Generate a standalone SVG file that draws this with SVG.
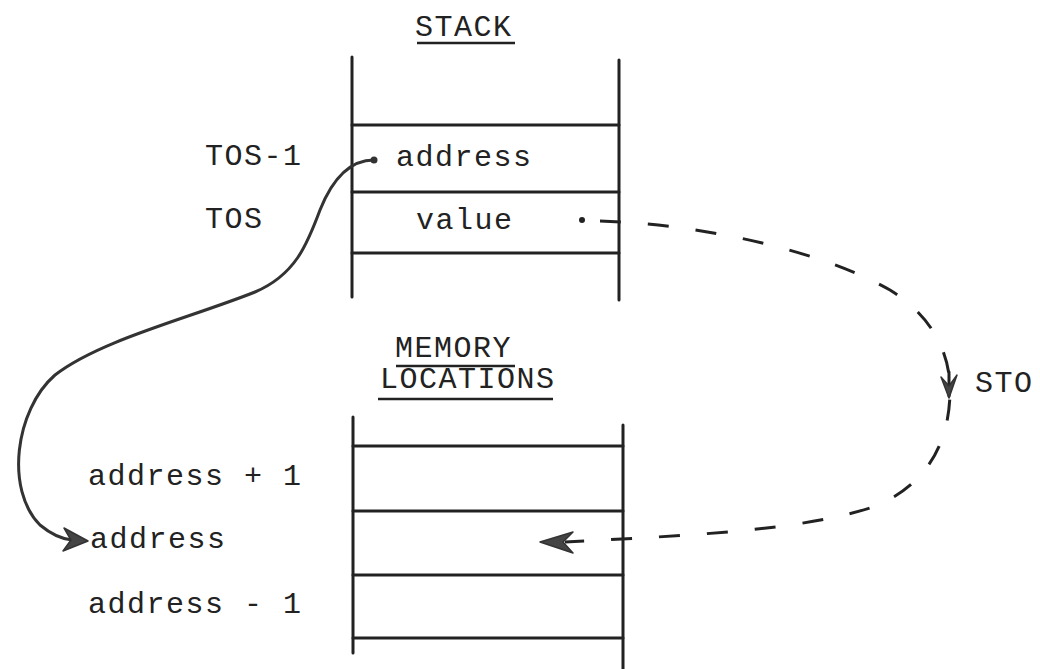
<svg xmlns="http://www.w3.org/2000/svg" width="1040" height="669" viewBox="0 0 1040 669">
  <style>
    .t { font-family: "Liberation Mono", "Courier New", monospace; font-size: 30px; letter-spacing: 1.5px; fill: #222; }
    .ln { stroke: #222; stroke-width: 3; fill: none; stroke-linecap: round; }
    .ul { stroke: #222; stroke-width: 2.5; fill: none; }
    .solid { stroke: #333; stroke-width: 3; fill: none; stroke-linecap: round; }
    .dash { stroke: #222; stroke-width: 3; fill: none; stroke-dasharray: 21 27; }
    .head { fill: #444; stroke: #333; stroke-width: 1.5; stroke-linejoin: round; }
  </style>
  <rect width="1040" height="669" fill="#ffffff"/>

  <g id="stack">
    <text class="t" x="415" y="36">STACK</text>
    <line class="ul" x1="417" y1="43" x2="515" y2="43"/>
    <line class="ln" x1="352" y1="57" x2="352" y2="297"/>
    <line class="ln" x1="619" y1="60" x2="619" y2="300"/>
    <line class="ln" x1="352" y1="125" x2="619" y2="125"/>
    <line class="ln" x1="352" y1="192" x2="619" y2="192"/>
    <line class="ln" x1="352" y1="253" x2="619" y2="253"/>
    <text class="t" x="396" y="166">address</text>
    <text class="t" x="416" y="229">value</text>
    <text class="t" x="205" y="165">TOS-1</text>
    <text class="t" x="205" y="228">TOS</text>
  </g>

  <g id="memory">
    <text class="t" x="395" y="357">MEMORY</text>
    <line class="ul" x1="396" y1="366" x2="515" y2="366"/>
    <text class="t" x="380" y="388">LOCATIONS</text>
    <line class="ul" x1="378" y1="399" x2="553" y2="399"/>
    <line class="ln" x1="353" y1="417" x2="353" y2="653"/>
    <line class="ln" x1="623" y1="425" x2="623" y2="669"/>
    <line class="ln" x1="353" y1="446" x2="623" y2="446"/>
    <line class="ln" x1="353" y1="511" x2="623" y2="511"/>
    <line class="ln" x1="353" y1="575" x2="623" y2="575"/>
    <line class="ln" x1="353" y1="638" x2="623" y2="638"/>
    <text class="t" x="88" y="485">address + 1</text>
    <text class="t" x="90" y="548">address</text>
    <text class="t" x="88" y="613">address - 1</text>
  </g>

  <g id="connectors">
    <circle cx="374" cy="160" r="3.5" fill="#333"/>
    <path class="solid" d="M374,160 C350,160 332,180 320,210 C307,245 295,275 255,292 C190,318 100,340 55,375 C15,410 5,490 40,525 C52,535 62,539 72,540"/>
    <polygon class="head" points="88,541 64,528 71,540 63,551"/>

    <circle cx="582" cy="220" r="3" fill="#222"/>
    <path class="dash" d="M600,221 C700,224 820,250 890,290 C930,315 950,350 950,390 C950,450 920,490 870,508 C800,530 700,535 565,542"/>
    <line class="ln" x1="949" y1="372" x2="949" y2="396"/>
    <polygon class="head" points="949,398 941,377 949,386 957,375"/>
    <polygon class="head" points="540,542 573,532 563,542 573,553"/>
    <text class="t" x="975" y="392">STO</text>
  </g>
</svg>
